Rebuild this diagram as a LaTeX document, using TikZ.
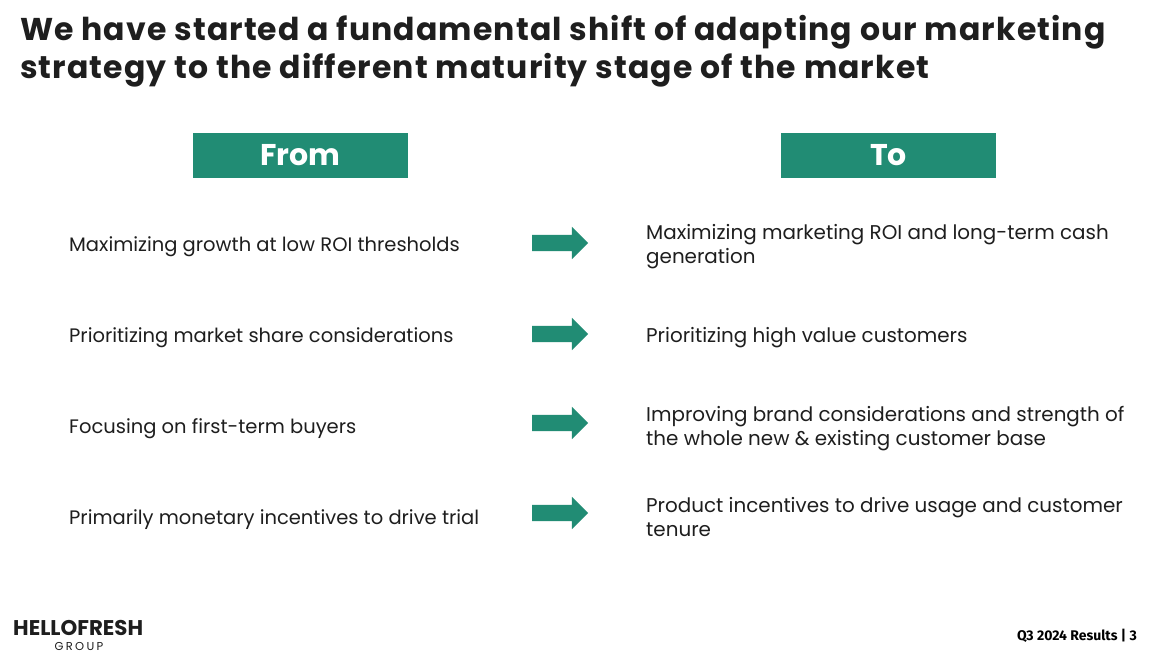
\documentclass[tikz,border=0pt]{standalone}
\usepackage{fontspec}
\setmainfont{Poppins}
\newfontfamily\footfont{Fira Sans}
\usetikzlibrary{shapes.arrows}
\definecolor{hfgreen}{RGB}{33,140,116}
\definecolor{hfink}{RGB}{30,30,30}
\tikzset{
  headbox/.style={fill=hfgreen, text=white, minimum width=215pt, minimum height=45pt, inner sep=0pt, font=\fontsize{30}{30}\selectfont\bfseries},
  fromtext/.style={anchor=base west, inner sep=0pt, text=hfink, font=\fontsize{19.5}{24}\selectfont},
  totext/.style={anchor=base west, inner sep=0pt, align=left, text=hfink, font=\fontsize{19.9}{24}\selectfont},
  shiftarrow/.style={single arrow, fill=hfgreen, draw=none, minimum height=56pt, text height=8pt, text depth=8pt, text width=0pt, inner sep=0pt, single arrow head extend=8pt, single arrow tip angle=90}
}
\begin{document}
\begin{tikzpicture}[x=1pt, y=-1pt]
			%%%%% FRAME %%%%%
			\useasboundingbox[fill=white] (0, 0) rectangle (1166, 661);
			
			\node[anchor=base west, inner sep=0pt, align=left, text=hfink, font=\fontsize{31.5}{38}\selectfont\bfseries\addfontfeatures{LetterSpace=3.5}] (title) at (20, 78)
				{We have started a fundamental shift of adapting our marketing\\strategy to the different maturity stage of the market};
			
			%%%%% HEADERS %%%%%
			\node[headbox] (from) at (300.5, 155.5) {From};
			\node[headbox] (to) at (888.5, 155.5) {To};
			
			%%%%% ROWS %%%%%
			\node[fromtext] (fromA) at (69, 251) {Maximizing growth at low ROI thresholds};
			\node[fromtext] (fromB) at (69, 342) {Prioritizing market share considerations};
			\node[fromtext] (fromC) at (69, 433) {Focusing on first-term buyers};
			\node[fromtext] (fromD) at (69, 524) {Primarily monetary incentives to drive trial};
			
			\node[shiftarrow] (arrA) at (556, 243) {};
			\node[shiftarrow] (arrB) at (556, 334) {};
			\node[shiftarrow] (arrC) at (556, 423) {};
			\node[shiftarrow] (arrD) at (556, 513) {};
			
			\node[totext] (toA) at (646, 263) {Maximizing marketing ROI and long-term cash\\generation};
			\node[totext] (toB) at (646, 342) {Prioritizing high value customers};
			\node[totext] (toC) at (646, 445) {Improving brand considerations and strength of\\the whole new \& existing customer base};
			\node[totext] (toD) at (646, 536) {Product incentives to drive usage and customer\\tenure};
			
			%%%%% FOOTER %%%%%
			\node[anchor=base west, inner sep=0pt, text=hfink, font=\fontsize{21.3}{21}\selectfont\bfseries] (brand) at (13, 635) {HELLOFRESH};
			\node[anchor=base, inner sep=0pt, text=hfink, font=\fontsize{11.5}{11}\selectfont\addfontfeatures{LetterSpace=20}] (group) at (79, 650) {GROUP};
			\node[anchor=base east, inner sep=0pt, text=black, font=\footfont\fontsize{14}{14}\selectfont\bfseries] (page) at (1137, 640) {Q3 2024 Results | 3};
\end{tikzpicture}
\end{document}
